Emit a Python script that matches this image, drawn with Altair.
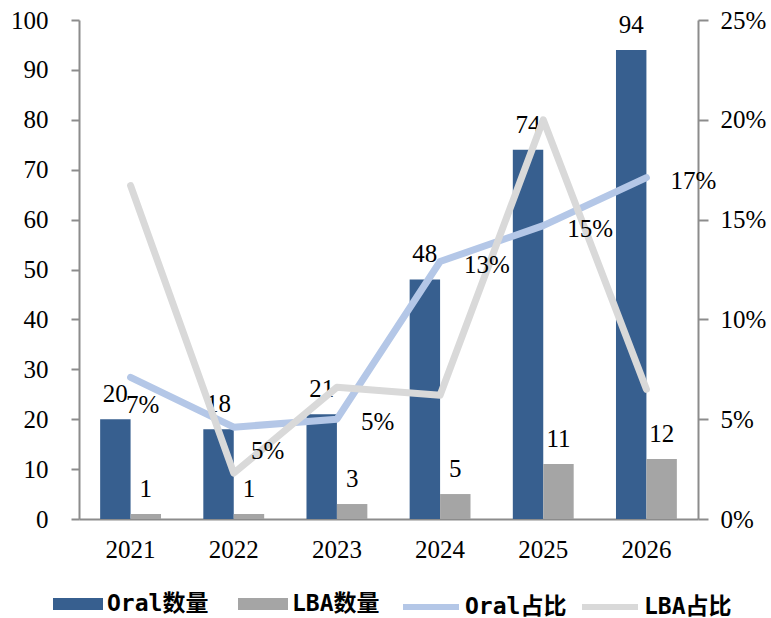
import altair as alt
import pandas as pd

years = ["2021", "2022", "2023", "2024", "2025", "2026"]
oral_count = [20, 18, 21, 48, 74, 94]
lba_count = [1, 1, 3, 5, 11, 12]
oral_share = [0.071, 0.046, 0.050, 0.129, 0.147, 0.171]
lba_share = [0.167, 0.023, 0.066, 0.062, 0.200, 0.065]
bar_series = ["Oral数量", "LBA数量"]
line_series = ["Oral占比", "LBA占比"]
bar_colors = ["#375F8F", "#A5A5A5"]
line_colors = ["#B4C7E7", "#D9D9D9"]

bars_df = pd.DataFrame({
    "year": years * 2,
    "series": [bar_series[0]] * len(years) + [bar_series[1]] * len(years),
    "value": oral_count + lba_count,
})
lines_df = pd.DataFrame({
    "year": years * 2,
    "series": [line_series[0]] * len(years) + [line_series[1]] * len(years),
    "share": oral_share + lba_share,
})

FONT = "Liberation Serif"
LEG_FONT = "DejaVu Sans Mono, Noto Sans CJK SC"
AX = "#8C8C8C"
FS = 25

x_enc = alt.X(
    "year:N", sort=years,
    scale=alt.Scale(paddingInner=0.41, paddingOuter=0.205),
    axis=alt.Axis(title=None, labelAngle=0, ticks=False, labelPadding=18,
                  labelFont=FONT, labelFontSize=FS, labelColor="black",
                  domainColor=AX, domainWidth=2, grid=False),
)

left_y = alt.Y(
    "value:Q", scale=alt.Scale(domain=[0, 100], nice=False),
    axis=alt.Axis(title=None, values=list(range(0, 101, 10)), tickSize=8,
                  labelPadding=23, grid=False, labelFont=FONT, labelFontSize=FS,
                  labelColor="black", domainColor=AX, domainWidth=2,
                  tickColor=AX, tickWidth=2, orient="left"),
)

right_y = alt.Y(
    "share:Q", scale=alt.Scale(domain=[0, 0.25], nice=False),
    axis=alt.Axis(title=None, values=[0, 0.05, 0.10, 0.15, 0.20, 0.25],
                  format=".0%", tickSize=10, labelPadding=12, grid=False,
                  labelFont=FONT, labelFontSize=FS, labelColor="black",
                  domainColor=AX, domainWidth=2, tickColor=AX, tickWidth=2,
                  orient="right"),
)

bar_base = alt.Chart(bars_df).encode(
    x=x_enc,
    xOffset=alt.XOffset("series:N", sort=bar_series,
                        scale=alt.Scale(domain=bar_series, paddingInner=0, paddingOuter=0)),
    y=left_y,
)

bars = bar_base.mark_bar().encode(
    fill=alt.Fill(
        "series:N",
        scale=alt.Scale(domain=bar_series, range=bar_colors),
        legend=alt.Legend(
            title=None, orient="none", legendX=-26, legendY=559,
            direction="horizontal", symbolType="M-1,-0.24H1V0.24H-1Z",
            symbolSize=2500, symbolStrokeWidth=0, symbolOpacity=1,
            labelFont=LEG_FONT, labelFontSize=23, labelFontWeight="bold",
            labelColor="black", labelOffset=4, columnPadding=29, padding=0,
            labelLimit=300,
        ),
    )
)

bar_text = bar_base.mark_text(
    dy=-25, baseline="middle", align="center", font=FONT, fontSize=FS, color="black"
).encode(text="value:Q")

stroke_enc = alt.Stroke(
    "series:N",
    scale=alt.Scale(domain=line_series, range=line_colors),
    legend=alt.Legend(
        title=None, orient="none", legendX=321, legendY=556,
        direction="horizontal", symbolType="stroke", symbolSize=3136,
        symbolStrokeWidth=6, symbolOpacity=1,
        labelFont=LEG_FONT, labelFontSize=23, labelFontWeight="bold",
        labelColor="black", labelOffset=3, columnPadding=3, padding=0,
        labelLimit=300,
    ),
)

line_base = alt.Chart(lines_df).encode(x=x_enc, y=right_y)

oral_line = line_base.transform_filter(
    alt.datum.series == line_series[0]
).mark_line(strokeWidth=7, strokeCap="round", strokeJoin="round").encode(stroke=stroke_enc)

lba_line = line_base.transform_filter(
    alt.datum.series == line_series[1]
).mark_line(strokeWidth=7, strokeCap="round", strokeJoin="round").encode(stroke=stroke_enc)

oral_only = line_base.transform_filter(alt.datum.series == line_series[0])

lab_main = oral_only.transform_filter(
    alt.FieldOneOfPredicate(field="year", oneOf=years[2:])
).mark_text(align="left", baseline="middle", dx=24, dy=3, font=FONT,
            fontSize=FS, color="black").encode(text=alt.Text("share:Q", format=".0%"))

lab_a = oral_only.transform_filter(
    alt.datum.year == years[0]
).mark_text(align="center", baseline="middle", dx=12, dy=28, font=FONT,
            fontSize=FS, color="black").encode(text=alt.Text("share:Q", format=".0%"))

lab_b = oral_only.transform_filter(
    alt.datum.year == years[1]
).mark_text(align="center", baseline="middle", dx=34, dy=24, font=FONT,
            fontSize=FS, color="black").encode(text=alt.Text("share:Q", format=".0%"))

left = alt.layer(bars, bar_text)
right = alt.layer(oral_line, lba_line, lab_main, lab_a, lab_b)

chart = alt.layer(left, right).resolve_scale(
    y="independent", fill="independent", stroke="independent"
).properties(
    width=619, height=499,
    padding={"left": 79, "top": 20, "right": 73, "bottom": 99},
    autosize=alt.AutoSizeParams(type="none"),
    background="white",
).configure_view(strokeWidth=0)

chart.save("out.html", embed_options={"renderer": "svg", "actions": False})
